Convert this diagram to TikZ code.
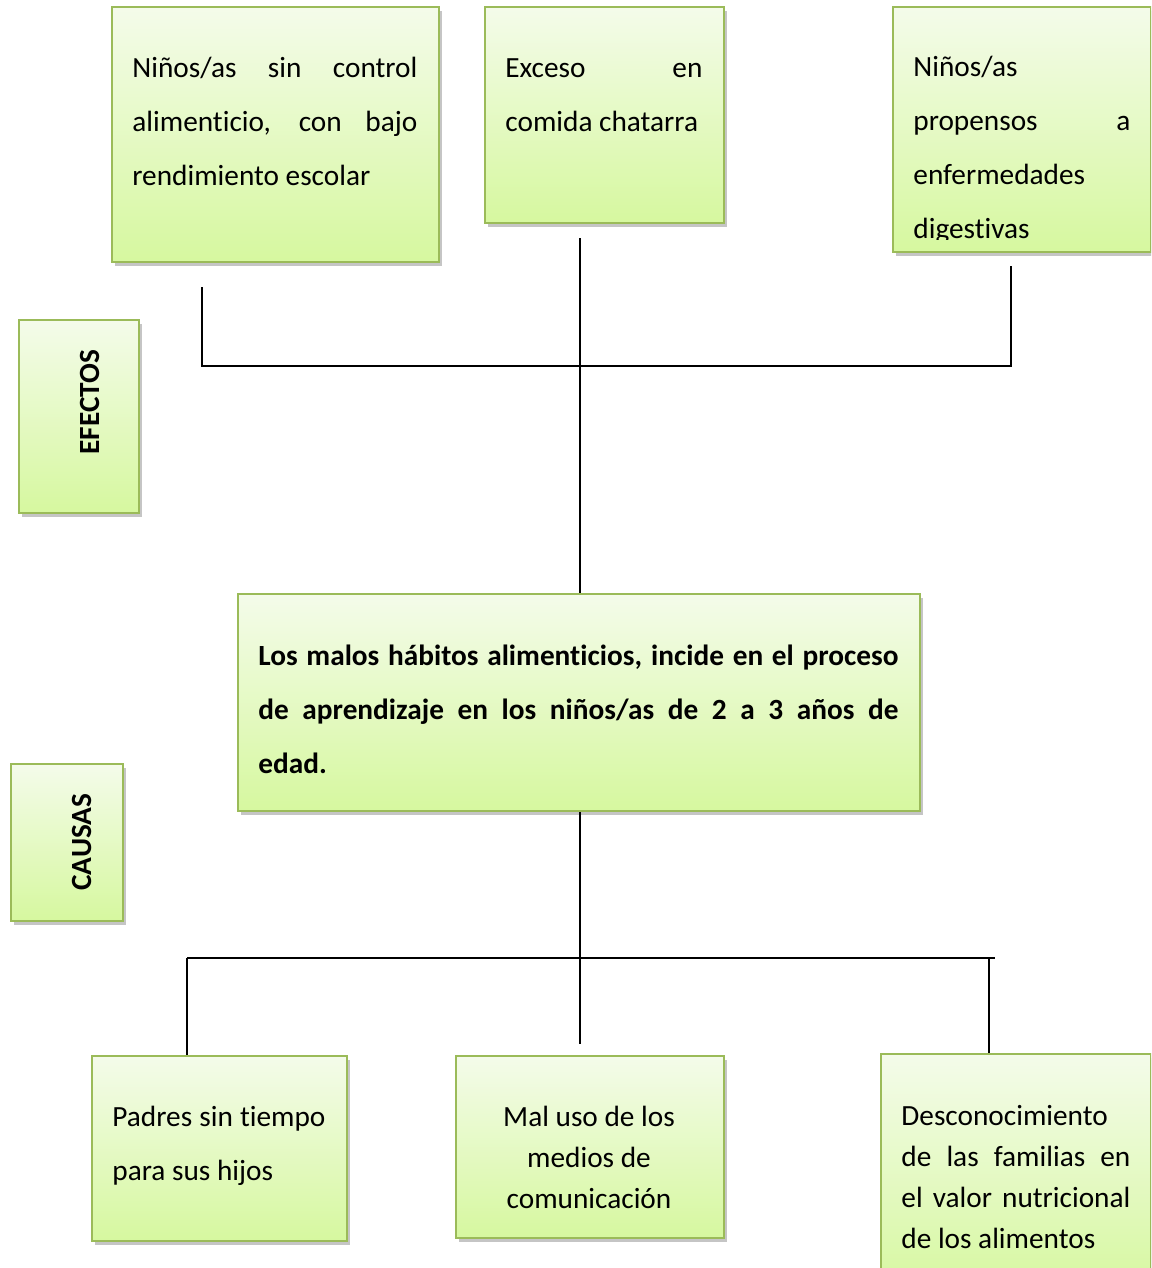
\documentclass[tikz,border=0pt]{standalone}
\usepackage{fontspec}
\setmainfont{Carlito}[Ligatures=NoCommon]
\usetikzlibrary{shadows}
\definecolor{boxborder}{HTML}{9BBB59}
\definecolor{boxtop}{HTML}{F4FBEA}
\definecolor{boxbot}{HTML}{D6F89F}
\begin{document}
\begin{tikzpicture}[x=0.5pt,y=-0.5pt,
  box/.style={draw=boxborder, line width=0.9pt, top color=boxtop, bottom color=boxbot,
    anchor=north west, inner sep=0pt,
    drop shadow={shadow xshift=1.6pt, shadow yshift=-2pt, fill=black!45, opacity=0.5}},
  txt/.style={anchor=base west, inner sep=0pt, align=justify,
    font=\fontsize{14.65pt}{27pt}\selectfont},
  txtsingle/.style={txt, font=\fontsize{14.65pt}{20.5pt}\selectfont},
  vlabel/.style={rotate=90, inner sep=0pt, font=\fontsize{14.65pt}{17pt}\selectfont\bfseries},
  conn/.style={line width=0.8pt, black}]
\clip (0,0) rectangle (1151,1268);
\fill[white] (0,0) rectangle (1151,1268);

% effect boxes
\node[box, minimum width=163.5pt, minimum height=127.5pt] (e1) at (111,6) {};
\node[txt, text width=142.5pt] (e1t) at (132,78) {Niños/as sin control\linebreak alimenticio, con bajo\linebreak rendimiento escolar};

\node[box, minimum width=119.5pt, minimum height=108pt] (e2) at (484,6) {};
\node[txt, text width=98.5pt] (e2t) at (505,78) {Exceso en\linebreak comida chatarra};

\node[box, minimum width=129pt, minimum height=122.5pt] (e3) at (892,6) {};
\coordinate (e3clip) at (1150,239);
\begin{scope}
\clip (e3.north west) rectangle (e3clip);
\node[txt, text width=108.5pt] (e3t) at (913,77) {Niños/as\linebreak propensos a\linebreak enfermedades\linebreak digestivas};
\end{scope}

% side labels
\node[box, minimum width=60pt, minimum height=96.5pt] (ef) at (18,319) {};
\node[vlabel] (eft) at (90,402) {EFECTOS};
\node[box, minimum width=56pt, minimum height=78.5pt] (ca) at (10,763) {};
\node[vlabel] (cat) at (82,842) {CAUSAS};

% central problem
\node[box, minimum width=341pt, minimum height=108.5pt] (pb) at (237,593) {};
\node[txt, text width=320pt, font=\fontsize{14.65pt}{27pt}\selectfont\bfseries] (pbt) at (258,665)
  {Los malos hábitos alimenticios, incide en el proceso\linebreak de aprendizaje en los niños/as de 2 a 3 años de\linebreak edad.};

% cause boxes
\node[box, minimum width=127.5pt, minimum height=92.5pt] (c1) at (91,1055) {};
\node[txt, text width=106.5pt] (c1t) at (112,1126) {Padres sin tiempo\linebreak para sus hijos};

\node[box, minimum width=134pt, minimum height=91pt] (c2) at (455,1055) {};
\node[anchor=base, inner sep=0pt, align=center, font=\fontsize{14.65pt}{20.5pt}\selectfont] (c2t) at (589,1208) {Mal uso de los\\ medios de\\ comunicación};

\node[box, minimum width=135pt, minimum height=120pt] (c3) at (880,1053) {};
\node[txtsingle, text width=114.5pt] (c3t) at (901,1125) {Desconocimiento\linebreak de las familias en\linebreak el valor nutricional\linebreak de los alimentos};

% connectors, top
\coordinate (t1) at (202,287);
\coordinate (t1b) at (202,366);
\coordinate (t3) at (1011,266);
\coordinate (t3b) at (1011,366);
\coordinate (t2) at (580,238);
\draw[conn] (t1) -- (t1b) -- (t3b) -- (t3);
\draw[conn] (t2) -- (t2 |- pb.north);

% connectors, bottom
\coordinate (bl) at (187,958);
\coordinate (br) at (995,958);
\coordinate (brv) at (989,958);
\coordinate (bm) at (580,1044);
\draw[conn] (bl) -- (br);
\draw[conn] (bl) -- (bl |- c1.north);
\draw[conn] (brv) -- (brv |- c3.north);
\draw[conn] (bm |- pb.south) -- (bm);
\end{tikzpicture}
\end{document}
